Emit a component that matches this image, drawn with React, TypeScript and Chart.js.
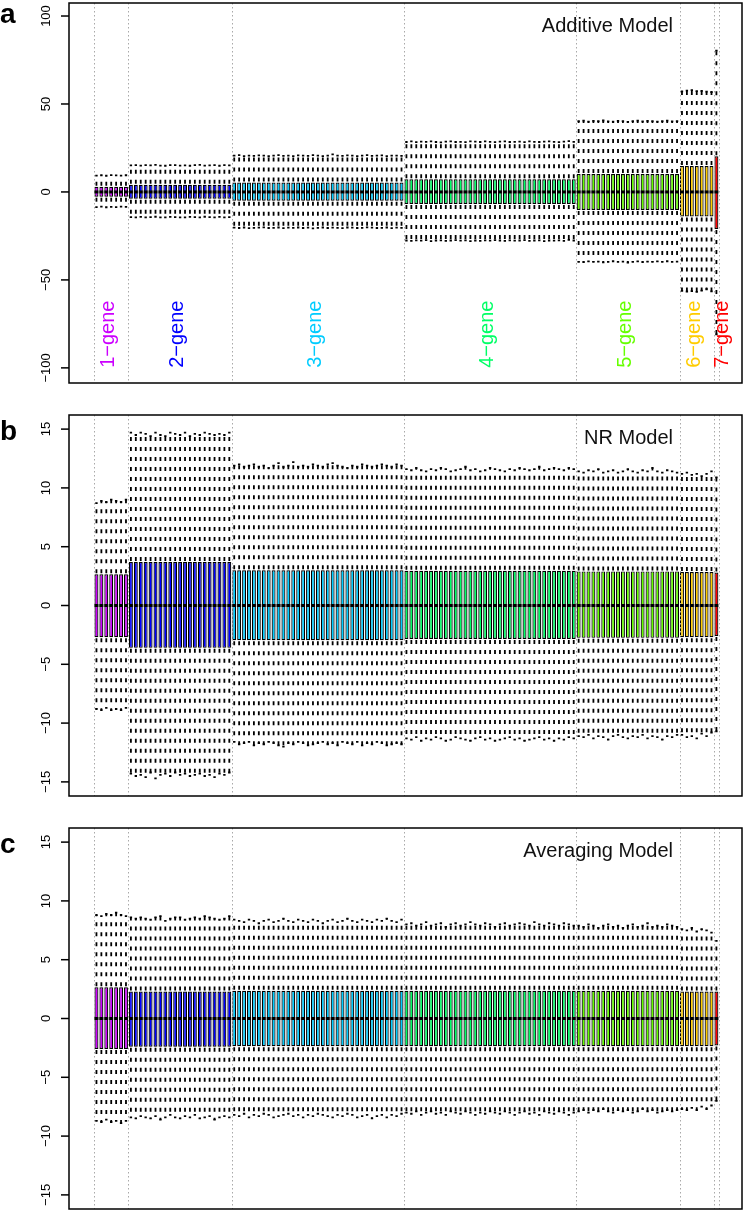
import React, { useEffect, useRef } from "react";
import { Chart, registerables } from "chart.js";

Chart.register(...registerables);

// ---------- categories ----------
const groupNames = ["1\u2212gene", "2\u2212gene", "3\u2212gene", "4\u2212gene", "5\u2212gene", "6\u2212gene", "7\u2212gene"];
const groupSizes = [7, 21, 35, 35, 21, 7, 1];
const groupColors = ["#CC00FF", "#0000FF", "#00CCFF", "#00FF66", "#66FF00", "#FFCC00", "#FF0000"];
const groupBounds = [0.5, 7.5, 28.5, 63.5, 98.5, 119.5, 126.5, 127.5];
const groupLabelX = [3.5, 17.5, 45.5, 80.5, 108.5, 122.5, 128.3];

// ---------- tick labels ----------
const ticksA = [-100, -50, 0, 50, 100];
const ticksBC = [-15, -10, -5, 0, 5, 10, 15];

// ---------- Panel a: Additive Model ----------
const aHi = [
  9.3, 9.5, 9.2, 9.6, 9.4, 9.3, 9.5,
  15.1, 15.3, 15.0, 15.2, 15.1, 15.4, 15.0, 14.9, 15.2, 15.3, 15.0, 15.1, 14.9, 15.2, 15.4, 15.0, 15.1, 15.3, 14.9, 15.2, 15.1,
  20.6, 20.9, 20.4, 20.7, 20.5, 20.8, 20.6, 20.3, 20.7, 20.9, 20.5, 20.6, 20.4, 20.8, 20.7, 20.5, 20.9, 20.6, 20.4, 20.7,
  21.3, 20.6, 20.5, 20.8, 20.6, 20.4, 20.7, 20.9, 20.5, 20.6, 20.8, 20.4, 20.7, 20.6, 20.5,
  28.4, 28.7, 28.3, 28.6, 28.5, 28.8, 28.4, 28.2, 28.6, 28.7, 28.4, 28.5, 28.3, 28.7, 28.6, 28.4, 28.8, 28.5, 28.3, 28.6,
  28.7, 28.4, 28.5, 28.6, 28.3, 28.7, 28.5, 28.4, 28.6, 28.8, 28.5, 28.3, 28.6, 28.9, 28.5,
  40.2, 40.5, 40.0, 40.4, 40.3, 40.6, 40.1, 39.9, 40.4, 40.2, 39.8, 40.3, 40.5, 40.1, 40.4, 40.2, 40.0, 40.3, 40.5, 40.1, 40.2,
  57.2, 57.6, 57.9, 57.3, 57.5, 57.0, 56.8,
  80.3,
];
const aLo = [
  -8.6, -8.4, -8.7, -8.5, -8.6, -8.3, -8.5,
  -14.3, -14.5, -14.2, -14.4, -14.3, -14.1, -14.5, -14.4, -14.2, -14.3, -14.5, -14.4, -14.2, -14.3, -14.4, -14.1, -14.3, -14.5, -14.2, -14.4, -14.3,
  -20.3, -20.5, -20.2, -20.6, -20.4, -20.3, -20.1, -20.5, -20.4, -20.2, -20.6, -20.3, -20.4, -20.2, -20.5, -20.3, -20.7, -20.4, -20.2, -20.5,
  -20.3, -20.4, -20.6, -20.2, -20.3, -20.5, -20.4, -20.1, -20.3, -20.5, -20.4, -20.2, -20.6, -20.3, -20.4,
  -27.6, -27.8, -27.5, -27.7, -27.4, -27.9, -27.6, -27.5, -27.8, -27.6, -27.4, -27.7, -27.5, -27.9, -27.6, -27.8, -27.5, -27.7, -27.4, -27.6,
  -27.8, -27.5, -27.7, -27.6, -27.4, -27.8, -27.6, -27.5, -27.9, -27.6, -27.7, -27.5, -27.8, -27.3, -27.6,
  -39.7, -39.9, -39.5, -39.8, -39.6, -40.0, -39.7, -39.4, -39.8, -39.6, -40.1, -39.7, -39.5, -39.9, -39.6, -39.8, -39.5, -39.7, -39.4, -39.8, -39.6,
  -56.2, -56.6, -56.4, -56.8, -56.1, -55.3, -56.5,
  -81.0,
];
const aQ3ByGroup = [2.9, 4.1, 5.4, 7.2, 10.2, 14.7, 20.3];
const aQ1ByGroup = [-2.7, -3.9, -5.0, -6.8, -10.2, -14.0, -21.0];
const aMedByGroup = [0, 0, 0, 0, 0, 0, 0];

// ---------- Panel b: NR Model ----------
const bHi = [
  8.7, 8.9, 8.8, 9.0, 8.9, 8.8, 9.0,
  14.7, 14.5, 14.7, 14.6, 14.4, 14.7, 14.5, 14.4, 14.7, 14.6, 14.5, 14.7, 14.4, 14.6, 14.5, 14.7, 14.6, 14.5, 14.6, 14.5, 14.7,
  11.9, 12.0, 11.8, 11.9, 12.0, 11.8, 11.9, 11.7, 11.9, 12.1, 11.8, 11.9, 12.2, 11.8, 11.9, 11.8, 12.0, 11.9, 11.8, 12.0,
  12.1, 11.9, 11.8, 11.7, 11.9, 11.8, 12.0, 11.9, 11.8, 11.9, 12.0, 11.9, 11.8, 12.0, 11.9,
  11.6, 11.5, 11.7, 11.5, 11.4, 11.6, 11.5, 11.7, 11.6, 11.4, 11.5, 11.6, 11.8, 11.5, 11.6, 11.4, 11.5, 11.7, 11.6, 11.5,
  11.4, 11.6, 11.5, 11.7, 11.6, 11.5, 11.6, 11.8, 11.5, 11.6, 11.7, 11.6, 11.5, 11.7, 11.6,
  11.4, 11.3, 11.5, 11.4, 11.6, 11.3, 11.4, 11.5, 11.3, 11.4, 11.6, 11.4, 11.3, 11.5, 11.4, 11.7, 11.4, 11.3, 11.5, 11.4, 11.3,
  11.2, 11.3, 11.1, 11.2, 11.0, 11.2, 11.4,
  10.9,
];
const bLo = [
  -8.8, -8.9, -8.7, -8.9, -8.8, -8.9, -8.7,
  -14.3, -14.5, -14.4, -14.6, -14.2, -14.7, -14.4, -14.3, -14.5, -14.2, -14.4, -14.3, -14.5, -14.4, -14.3, -14.5, -14.4, -14.6, -14.3, -14.4, -14.2,
  -11.6, -11.8, -11.7, -11.6, -11.9, -11.7, -11.8, -11.6, -11.7, -11.9, -12.0, -11.7, -11.8, -11.6, -11.7, -11.9, -11.8, -11.7, -11.6, -11.8,
  -11.7, -11.9, -11.6, -11.7, -11.8, -11.6, -11.9, -11.7, -11.8, -11.6, -11.7, -11.9, -11.8, -11.7, -11.8,
  -11.3, -11.4, -11.2, -11.5, -11.3, -11.4, -11.2, -11.3, -11.5, -11.4, -11.2, -11.3, -11.4, -11.5, -11.3, -11.2, -11.4, -11.3, -11.5, -11.4,
  -11.3, -11.2, -11.4, -11.3, -11.5, -11.4, -11.3, -11.2, -11.4, -11.3, -11.5, -11.3, -11.4, -11.2, -11.3,
  -11.1, -11.2, -11.0, -11.3, -11.1, -11.2, -11.4, -11.1, -11.0, -11.2, -11.3, -11.1, -11.2, -11.0, -11.3, -11.1, -11.2, -11.4, -11.1, -11.2, -11.0,
  -11.0, -11.2, -11.1, -11.3, -10.9, -11.1, -10.8,
  -10.7,
];
const bQ3ByGroup = [2.65, 3.7, 3.0, 2.95, 2.9, 2.85, 2.8];
const bQ1ByGroup = [-2.7, -3.6, -2.95, -2.85, -2.75, -2.7, -2.6];
const bMedByGroup = [0, 0, 0, 0, 0, 0, 0];

// ---------- Panel c: Averaging Model ----------
const cHi = [
  8.8, 8.7, 8.9, 8.8, 9.0, 8.8, 8.7,
  8.6, 8.5, 8.6, 8.5, 8.4, 8.6, 8.7, 8.3, 8.5, 8.6, 8.6, 8.4, 8.5, 8.6, 8.5, 8.7, 8.6, 8.5, 8.4, 8.5, 8.7,
  8.4, 8.3, 8.2, 8.4, 8.3, 8.1, 8.3, 8.4, 8.2, 8.3, 8.5, 8.3, 8.2, 8.4, 8.3, 8.2, 8.4, 8.3, 8.1, 8.3,
  8.4, 8.2, 8.3, 8.5, 8.3, 8.2, 8.4, 8.3, 8.2, 8.4, 8.3, 8.5, 8.3, 8.2, 8.4,
  8.0, 8.1, 7.9, 8.0, 8.2, 7.9, 8.0, 8.1, 7.8, 8.0, 8.1, 7.9, 8.0, 8.2, 8.0, 7.9, 8.1, 8.0, 7.8, 8.0,
  8.1, 7.9, 8.0, 8.1, 8.0, 7.9, 8.2, 8.0, 7.9, 8.1, 8.0, 7.9, 8.1, 8.0, 7.9,
  7.9, 7.8, 8.0, 7.9, 7.7, 7.9, 8.0, 7.8, 7.9, 7.7, 7.9, 8.0, 7.8, 7.9, 8.1, 7.8, 7.9, 7.8, 8.0, 7.9, 7.8,
  7.6, 7.5, 7.7, 7.4, 7.6, 7.5, 7.3,
  6.6,
];
const cLo = [
  -8.7, -8.8, -8.6, -8.8, -8.7, -8.9, -8.7,
  -8.4, -8.5, -8.3, -8.4, -8.5, -8.3, -8.6, -8.4, -8.2, -8.4, -8.5, -8.3, -8.4, -8.2, -8.5, -8.4, -8.3, -8.6, -8.4, -8.3, -8.4,
  -8.2, -8.3, -8.1, -8.4, -8.2, -8.3, -8.1, -8.2, -8.4, -8.3, -8.2, -8.1, -8.3, -8.2, -8.4, -8.2, -8.3, -8.1, -8.2, -8.3,
  -8.4, -8.2, -8.3, -8.1, -8.2, -8.4, -8.3, -8.2, -8.5, -8.3, -8.2, -8.4, -8.2, -8.3, -8.1,
  -8.0, -8.1, -7.9, -8.2, -8.0, -7.9, -8.1, -8.0, -8.2, -7.9, -8.0, -8.1, -7.9, -8.0, -8.2, -8.0, -8.1, -7.9, -8.0, -8.1,
  -7.9, -8.0, -8.2, -8.0, -7.9, -8.1, -8.0, -8.2, -7.9, -8.0, -8.1, -7.9, -8.0, -8.2, -8.0,
  -7.9, -7.8, -8.0, -7.8, -7.9, -7.7, -7.9, -8.0, -7.8, -7.9, -7.8, -8.0, -7.9, -7.7, -7.9, -7.8, -8.0, -7.9, -7.8, -7.9, -7.8,
  -7.7, -7.8, -7.6, -7.8, -7.5, -7.7, -7.4,
  -7.0,
];
const cQ3ByGroup = [2.65, 2.3, 2.35, 2.35, 2.35, 2.3, 2.3];
const cQ1ByGroup = [-2.6, -2.4, -2.35, -2.35, -2.35, -2.35, -2.3];
const cMedByGroup = [0, 0, 0, 0, 0, 0, 0];

// ---------- helpers ----------
const FONT = '"Liberation Sans", Arial, Helvetica, sans-serif';
const W = 750;
const H = 1213;

function expand<T>(perGroup: T[]): T[] {
  const out: T[] = [];
  perGroup.forEach((v, g) => {
    for (let k = 0; k < groupSizes[g]; k++) out.push(v);
  });
  return out;
}

type Panel = {
  letter: string;
  letterY: number;
  title: string;
  top: number;
  bottom: number;
  yMin: number;
  yMax: number;
  ticks: number[];
  hi: number[];
  lo: number[];
  q1: number[];
  q3: number[];
  med: number[];
  groupLabels: boolean;
};

const panels: Panel[] = [
  {
    letter: "a", letterY: 23, title: "Additive Model", top: 3, bottom: 383, yMin: -108.6, yMax: 107.4, ticks: ticksA,
    hi: aHi, lo: aLo, q1: expand(aQ1ByGroup), q3: expand(aQ3ByGroup), med: expand(aMedByGroup), groupLabels: true,
  },
  {
    letter: "b", letterY: 440, title: "NR Model", top: 415, bottom: 796, yMin: -16.2, yMax: 16.2, ticks: ticksBC,
    hi: bHi, lo: bLo, q1: expand(bQ1ByGroup), q3: expand(bQ3ByGroup), med: expand(bMedByGroup), groupLabels: false,
  },
  {
    letter: "c", letterY: 853, title: "Averaging Model", top: 828, bottom: 1209, yMin: -16.2, yMax: 16.2, ticks: ticksBC,
    hi: cHi, lo: cLo, q1: expand(cQ1ByGroup), q3: expand(cQ3ByGroup), med: expand(cMedByGroup), groupLabels: false,
  },
];

const boxColors = expand(groupColors);

function makePlugin(p: Panel) {
  return {
    id: "boxExtras" + p.letter,
    afterDatasetsDraw(chart: any) {
      const { ctx, chartArea: ca } = chart;
      const xs = chart.scales.x;
      const ys = chart.scales.y;
      const unit = xs.getPixelForValue(1) - xs.getPixelForValue(0);
      const n = p.hi.length;
      ctx.save();
      ctx.beginPath();
      ctx.rect(ca.left, ca.top, ca.right - ca.left, ca.bottom - ca.top);
      ctx.clip();

      // dotted group separators
      ctx.strokeStyle = "#A9A9A9";
      ctx.lineWidth = 1;
      ctx.setLineDash([1.5, 2.5]);
      for (const b of groupBounds) {
        const px = Math.round(xs.getPixelForValue(b)) + 0.5;
        ctx.beginPath();
        ctx.moveTo(px, ca.top);
        ctx.lineTo(px, ca.bottom);
        ctx.stroke();
      }

      // dashed whiskers
      ctx.strokeStyle = "#000";
      ctx.lineWidth = 1.8;
      ctx.setLineDash([4, 6]);
      for (let i = 0; i < n; i++) {
        const px = xs.getPixelForValue(i + 1);
        ctx.beginPath();
        ctx.moveTo(px, ys.getPixelForValue(p.q3[i]) - 1);
        ctx.lineTo(px, ys.getPixelForValue(p.hi[i]));
        ctx.stroke();
        ctx.beginPath();
        ctx.moveTo(px, ys.getPixelForValue(p.q1[i]) + 1);
        ctx.lineTo(px, ys.getPixelForValue(p.lo[i]));
        ctx.stroke();
      }
      ctx.setLineDash([]);

      // staples
      const sw = unit * 0.24;
      ctx.lineWidth = 1.8;
      for (let i = 0; i < n; i++) {
        const px = xs.getPixelForValue(i + 1);
        const yh = ys.getPixelForValue(p.hi[i]);
        const yl = ys.getPixelForValue(p.lo[i]);
        ctx.beginPath();
        ctx.moveTo(px - sw, yh);
        ctx.lineTo(px + sw, yh);
        ctx.moveTo(px - sw, yl);
        ctx.lineTo(px + sw, yl);
        ctx.stroke();
      }

      // medians
      const bw = unit * 0.4;
      ctx.lineWidth = 3;
      for (let i = 0; i < n; i++) {
        const px = xs.getPixelForValue(i + 1);
        const ym = ys.getPixelForValue(p.med[i]);
        ctx.beginPath();
        ctx.moveTo(px - bw, ym);
        ctx.lineTo(px + bw, ym);
        ctx.stroke();
      }
      ctx.restore();

      // frame
      ctx.save();
      ctx.strokeStyle = "#000";
      ctx.lineWidth = 1.5;
      ctx.strokeRect(ca.left, ca.top, ca.right - ca.left, ca.bottom - ca.top);

      // y ticks and labels
      ctx.fillStyle = "#000";
      ctx.font = `13px ${FONT}`;
      for (const t of p.ticks) {
        const py = ys.getPixelForValue(t);
        ctx.beginPath();
        ctx.moveTo(ca.left - 8, py);
        ctx.lineTo(ca.left, py);
        ctx.stroke();
        ctx.save();
        ctx.translate(ca.left - 19, py);
        ctx.rotate(-Math.PI / 2);
        ctx.textAlign = "center";
        ctx.textBaseline = "alphabetic";
        ctx.fillText(t < 0 ? "\u2212" + Math.abs(t) : String(t), 0, 0);
        ctx.restore();
      }

      // model title
      ctx.font = `20px ${FONT}`;
      ctx.fillStyle = "#111";
      ctx.textAlign = "right";
      ctx.textBaseline = "middle";
      ctx.fillText(p.title, 673, p.top + 23.5);

      // panel letter
      ctx.font = `bold 28px ${FONT}`;
      ctx.fillStyle = "#000";
      ctx.textAlign = "left";
      ctx.textBaseline = "alphabetic";
      ctx.fillText(p.letter, 0, p.letterY);

      // group labels
      if (p.groupLabels) {
        ctx.font = `20px ${FONT}`;
        groupNames.forEach((name, g) => {
          const px = xs.getPixelForValue(groupLabelX[g]);
          const py = ys.getPixelForValue(-100);
          ctx.save();
          ctx.translate(px, py);
          ctx.rotate(-Math.PI / 2);
          ctx.fillStyle = groupColors[g];
          ctx.textAlign = "left";
          ctx.textBaseline = "middle";
          ctx.fillText(name, 0, 0);
          ctx.restore();
        });
      }
      ctx.restore();
    },
  };
}

function BoxPanel({ p }: { p: Panel }) {
  const ref = useRef<HTMLCanvasElement>(null);
  useEffect(() => {
    if (!ref.current) return;
    const data = p.hi.map((_, i) => ({ x: i + 1, y: [p.q1[i], p.q3[i]] }));
    const chart = new Chart(ref.current, {
      type: "bar",
      data: {
        datasets: [
          {
            data: data as any,
            backgroundColor: boxColors,
            borderColor: "#000",
            borderWidth: 1.2,
            borderSkipped: false,
            barPercentage: 0.8,
            categoryPercentage: 1,
          } as any,
        ],
      },
      options: {
        responsive: false,
        maintainAspectRatio: false,
        animation: false,
        events: [],
        layout: { padding: { left: 69, right: W - 742, top: p.top, bottom: H - p.bottom } },
        scales: {
          x: { type: "linear", min: -4.58, max: 132.2, display: false, offset: false },
          y: { type: "linear", min: p.yMin, max: p.yMax, display: false },
        },
        plugins: {
          legend: { display: false },
          tooltip: { enabled: false },
          title: { display: false },
        },
      },
      plugins: [makePlugin(p)],
    });
    return () => chart.destroy();
  }, [p]);
  return (
    <canvas
      ref={ref}
      width={W}
      height={H}
      style={{ position: "absolute", left: 0, top: 0, width: W, height: H }}
    />
  );
}

export default function App() {
  return (
    <div style={{ position: "absolute", left: 0, top: 0, width: W, height: H, background: "#fff" }}>
      {panels.map((p) => (
        <BoxPanel key={p.letter} p={p} />
      ))}
    </div>
  );
}
